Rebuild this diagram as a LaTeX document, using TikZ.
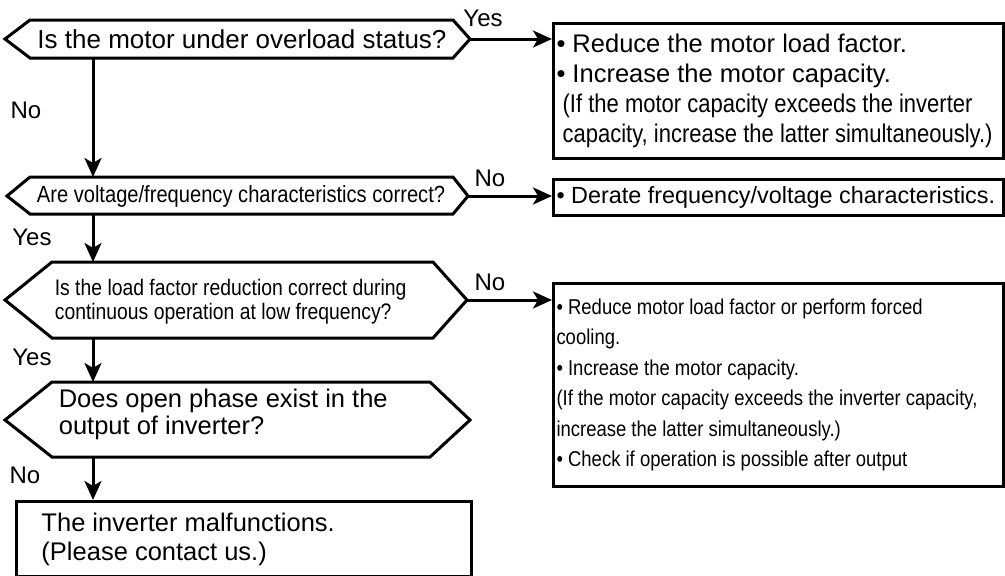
\documentclass[tikz,border=0pt]{standalone}
\usepackage{fontspec}
\setmainfont{Liberation Sans}
\newfontfamily\narrowfont[FakeStretch=0.86]{Liberation Sans}
\usetikzlibrary{arrows.meta}

\begin{document}
\begin{tikzpicture}[x=1pt, y=-1pt, line width=3pt,
  arr/.style={-{Stealth[length=19pt,width=17pt,inset=5pt]}},
  box/.style={draw, anchor=north west, align=flush left, inner xsep=3pt, inner ysep=0pt},
  lab/.style={inner sep=0pt, font=\fontsize{24}{28}\selectfont}]
\useasboundingbox (0,0) rectangle (1005,576);

% questions
\draw (5,39) -- (30,20) -- (453,20) -- (470,39) -- (453,58) -- (30,58) -- cycle;
\node (q1) [font=\fontsize{26}{30}\selectfont] at (242,39) {Is the motor under overload status?};
\coordinate (q1e) at (470,39);
\coordinate (q1s) at (93,58);

\draw (7,196) -- (30,177) -- (453,177) -- (468,196) -- (453,214) -- (30,214) -- cycle;
\node (q2) [font=\narrowfont\fontsize{23.4}{28}\selectfont] at (241,196) {Are voltage/frequency characteristics correct?};
\coordinate (q2n) at (93,177);
\coordinate (q2e) at (468,196);
\coordinate (q2s) at (93,214);

\draw (5,300) -- (52,262) -- (433,262) -- (467,300) -- (433,338) -- (52,338) -- cycle;
\node (q3) [anchor=west, align=flush left, font=\narrowfont\fontsize{22.5}{24}\selectfont] at (50,302) {Is the load factor reduction correct during\\ continuous operation at low frequency?};
\coordinate (q3n) at (93,262);
\coordinate (q3e) at (467,300);
\coordinate (q3s) at (93,338);

\draw (5,420) -- (52,382) -- (430,382) -- (470,420) -- (430,457) -- (52,457) -- cycle;
\node (q4) [anchor=west, align=flush left, font=\fontsize{25.5}{27}\selectfont] at (54,414) {Does open phase exist in the\\ output of inverter?};
\coordinate (q4n) at (93,382);
\coordinate (q4s) at (93,457);

% remedies
\node (a1) [box, text width=444pt, minimum height=135pt, font=\fontsize{25.5}{30}\selectfont] at (552,22) {%
  \textbullet\ Reduce the motor load factor.\\
  \textbullet\ Increase the motor capacity.\\
  {\narrowfont\fontsize{25.6}{30}\selectfont\ (If the motor capacity exceeds the inverter}\\
  {\narrowfont\fontsize{25.6}{30}\selectfont\ capacity, increase the latter simultaneously.)}};
\node (a2) [box, text width=444pt, minimum height=36pt, font=\fontsize{23.4}{28}\selectfont] at (552,178) {\textbullet\ Derate frequency/voltage characteristics.};
\node (a3) [box, text width=444pt, minimum height=203pt, font=\narrowfont\fontsize{21.5}{30.4}\selectfont] at (552,282) {%
  \textbullet\ Reduce motor load factor or perform forced\\
  cooling.\\
  \textbullet\ Increase the motor capacity.\\
  (If the motor capacity exceeds the inverter capacity,\\
  increase the latter simultaneously.)\\
  \textbullet\ Check if operation is possible after output};
\node (fault) [box, inner xsep=25pt, text width=405pt, minimum height=75pt, font=\fontsize{25.5}{29}\selectfont] at (15,500) {%
  The inverter malfunctions.\\
  (Please contact us.)};

% connectors
\draw[arr] (q1e) -- (q1e -| a1.west);
\draw[arr] (q2e) -- (q2e -| a2.west);
\draw[arr] (q3e) -- (q3e -| a3.west);
\draw[arr] (q1s) -- (q2n);
\draw[arr] (q2s) -- (q3n);
\draw[arr] (q3s) -- (q4n);
\draw[arr] (q4s) -- (q4s |- fault.north);

% labels
\node (l1) [lab] at (483,18) {Yes};
\node (l2) [lab] at (26,110) {No};
\node (l3) [lab] at (490,178) {No};
\node (l4) [lab] at (32,237) {Yes};
\node (l5) [lab] at (490,282) {No};
\node (l6) [lab] at (32,357) {Yes};
\node (l7) [lab] at (25,475) {No};
\end{tikzpicture}
\end{document}
